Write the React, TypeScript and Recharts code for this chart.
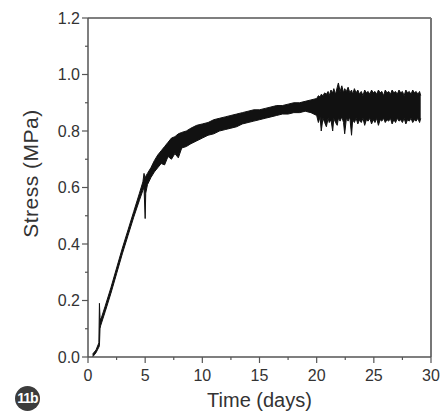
import {
  ComposedChart,
  Area,
  XAxis,
  YAxis,
  ReferenceLine,
} from 'recharts';

// time (days) and the lower / upper edge of the noisy stress trace (MPa)
const time = [
  0.4, 0.7, 0.95, 1.0, 1.05, 1.1, 1.5, 2, 2.5, 3,
  3.5, 4, 4.5, 4.8, 4.9, 5.0, 5.05, 5.2, 5.5, 5.8,
  6.1, 6.4, 6.7, 7.0, 7.3, 7.6, 7.9, 8.2, 8.6, 9,
  9.5, 10, 10.5, 11, 11.5, 12, 12.5, 13, 13.5, 14,
  14.5, 15, 15.5, 16, 16.5, 17, 17.5, 18, 18.5, 19,
  19.5,
  20.0, 20.15, 20.3, 20.4, 20.55, 20.7, 20.85, 21.0, 21.1, 21.25,
  21.4, 21.5, 21.65, 21.8, 21.9, 22.05, 22.2, 22.35, 22.45, 22.6,
  22.75, 22.9, 23.05, 23.15, 23.3, 23.45, 23.6, 23.75, 23.9, 24.05,
  24.2, 24.35, 24.5, 24.65, 24.8, 24.95, 25.1, 25.25, 25.4, 25.55,
  25.7, 25.85, 26.0, 26.15, 26.3, 26.45, 26.6, 26.75, 26.9, 27.05,
  27.2, 27.35, 27.5, 27.65, 27.8, 27.95, 28.1, 28.25, 28.4, 28.55,
  28.7, 28.85, 29.0, 29.1,
];
const stressLow = [
  0.0, 0.015, 0.035, 0.04, 0.1, 0.11, 0.16, 0.225, 0.295, 0.365,
  0.43, 0.495, 0.555, 0.59, 0.6, 0.49, 0.58, 0.61, 0.635, 0.655,
  0.67, 0.685, 0.68, 0.71, 0.7, 0.72, 0.705, 0.74, 0.745, 0.755,
  0.765, 0.775, 0.785, 0.79, 0.8, 0.805, 0.81, 0.815, 0.825, 0.83,
  0.835, 0.84, 0.845, 0.85, 0.855, 0.86, 0.86, 0.865, 0.865, 0.87,
  0.865,
  0.855, 0.83, 0.85, 0.8, 0.845, 0.83, 0.815, 0.845, 0.83, 0.84,
  0.8, 0.845, 0.83, 0.82, 0.845, 0.835, 0.85, 0.83, 0.79, 0.845,
  0.835, 0.85, 0.785, 0.84, 0.83, 0.845, 0.825, 0.84, 0.83, 0.845,
  0.82, 0.84, 0.835, 0.845, 0.825, 0.84, 0.83, 0.845, 0.82, 0.84,
  0.835, 0.845, 0.83, 0.84, 0.835, 0.845, 0.825, 0.84, 0.83, 0.845,
  0.835, 0.84, 0.83, 0.845, 0.825, 0.84, 0.835, 0.845, 0.83, 0.84,
  0.835, 0.845, 0.83, 0.845,
];
const stressHigh = [
  0.01, 0.025, 0.05, 0.19, 0.14, 0.13, 0.18, 0.245, 0.315, 0.385,
  0.45, 0.515, 0.58, 0.62, 0.65, 0.63, 0.64, 0.65, 0.67, 0.695,
  0.715, 0.73, 0.745, 0.76, 0.775, 0.78, 0.79, 0.795, 0.8, 0.81,
  0.82, 0.825, 0.83, 0.84, 0.845, 0.85, 0.855, 0.86, 0.865, 0.87,
  0.875, 0.875, 0.88, 0.885, 0.89, 0.89, 0.895, 0.9, 0.9, 0.905,
  0.91,
  0.915, 0.925, 0.92, 0.93, 0.925, 0.935, 0.93, 0.94, 0.925, 0.945,
  0.935, 0.95, 0.93, 0.955, 0.97, 0.94, 0.96, 0.935, 0.95, 0.94,
  0.955, 0.935, 0.945, 0.93, 0.95, 0.935, 0.945, 0.93, 0.94, 0.925,
  0.945, 0.935, 0.94, 0.93, 0.945, 0.935, 0.94, 0.93, 0.945, 0.935,
  0.94, 0.925, 0.945, 0.935, 0.94, 0.93, 0.945, 0.935, 0.94, 0.93,
  0.945, 0.935, 0.94, 0.925, 0.945, 0.935, 0.94, 0.93, 0.945, 0.935,
  0.94, 0.93, 0.94, 0.925,
];

const xTicks = [0, 2.5, 5, 7.5, 10, 12.5, 15, 17.5, 20, 22.5, 25, 27.5, 30];
const yTicks = [0, 0.1, 0.2, 0.3, 0.4, 0.5, 0.6, 0.7, 0.8, 0.9, 1.0, 1.1, 1.2];

const AXIS = '#555';
const TEXT = '#333';
const FONT = '"Liberation Sans", Arial, sans-serif';

const chartData = time.map((t, i) => ({ t, band: [stressLow[i], stressHigh[i]] }));

const YTick = (props: any) => {
  const { x, y, payload } = props;
  const major = Math.round(payload.value * 10) % 2 === 0;
  return (
    <g>
      <line x1={x - (major ? 6 : 3)} x2={x} y1={y} y2={y} stroke={AXIS} strokeWidth={1.2} />
      {major && (
        <text x={x - 8} y={y} dy="0.36em" textAnchor="end" fontSize={16} fill={TEXT} fontFamily={FONT}>
          {payload.value.toFixed(1)}
        </text>
      )}
    </g>
  );
};

const XTick = (props: any) => {
  const { x, y, payload } = props;
  const major = payload.value % 5 === 0;
  return (
    <g>
      <line x1={x} x2={x} y1={y} y2={y + (major ? 6 : 3)} stroke={AXIS} strokeWidth={1.2} />
      {major && (
        <text x={x} y={y + 24} textAnchor="middle" fontSize={16} fill={TEXT} fontFamily={FONT}>
          {payload.value}
        </text>
      )}
    </g>
  );
};

export default function App() {
  return (
    <div style={{ position: 'absolute', left: 0, top: 0, width: 443, height: 417, background: '#fff' }}>
      <ComposedChart
        width={443}
        height={417}
        data={chartData}
        margin={{ top: 18, right: 12, left: 0, bottom: 0 }}
      >
        <XAxis
          dataKey="t"
          type="number"
          domain={[0, 30]}
          ticks={xTicks}
          interval={0}
          height={60}
          tickSize={0}
          tickMargin={0}
          tick={<XTick />}
          tickLine={false}
          axisLine={{ stroke: AXIS, strokeWidth: 1.5 }}
          allowDataOverflow
          label={{
            content: ({ viewBox }: any) => (
              <text
                x={viewBox.x + viewBox.width / 2}
                y={viewBox.y + 50}
                textAnchor="middle"
                fontSize={20}
                fill={TEXT}
                fontFamily={FONT}
              >
                Time (days)
              </text>
            ),
          }}
        />
        <YAxis
          type="number"
          domain={[0, 1.2]}
          ticks={yTicks}
          interval={0}
          width={88}
          tickSize={0}
          tickMargin={0}
          tick={<YTick />}
          tickLine={false}
          axisLine={{ stroke: AXIS, strokeWidth: 1.5 }}
          allowDataOverflow
          label={{
            content: ({ viewBox }: any) => {
              const cx = 30;
              const cy = viewBox.y + viewBox.height / 2 - 14;
              return (
                <text
                  x={cx}
                  y={cy}
                  transform={`rotate(-90, ${cx}, ${cy})`}
                  textAnchor="middle"
                  dominantBaseline="central"
                  fontSize={21}
                  letterSpacing={0.5}
                  fill={TEXT}
                  fontFamily={FONT}
                >
                  Stress (MPa)
                </text>
              );
            },
          }}
        />
        <ReferenceLine y={1.2} stroke={AXIS} strokeWidth={1.5} ifOverflow="visible" />
        <ReferenceLine x={30} stroke="#777" strokeWidth={2} ifOverflow="visible" />
        <Area
          dataKey="band"
          type="linear"
          stroke="#111"
          strokeWidth={1}
          fill="#111"
          fillOpacity={1}
          isAnimationActive={false}
          dot={false}
          activeDot={false}
        />
      </ComposedChart>
      <div
        style={{
          position: 'absolute',
          left: 15,
          top: 386,
          width: 25,
          height: 25,
          borderRadius: '50%',
          background: '#3c3c3c',
          color: '#fff',
          fontFamily: FONT,
          fontWeight: 'bold',
          fontSize: 14,
          letterSpacing: -1,
          lineHeight: '25px',
          textAlign: 'center',
        }}
      >
        11b
      </div>
    </div>
  );
}
